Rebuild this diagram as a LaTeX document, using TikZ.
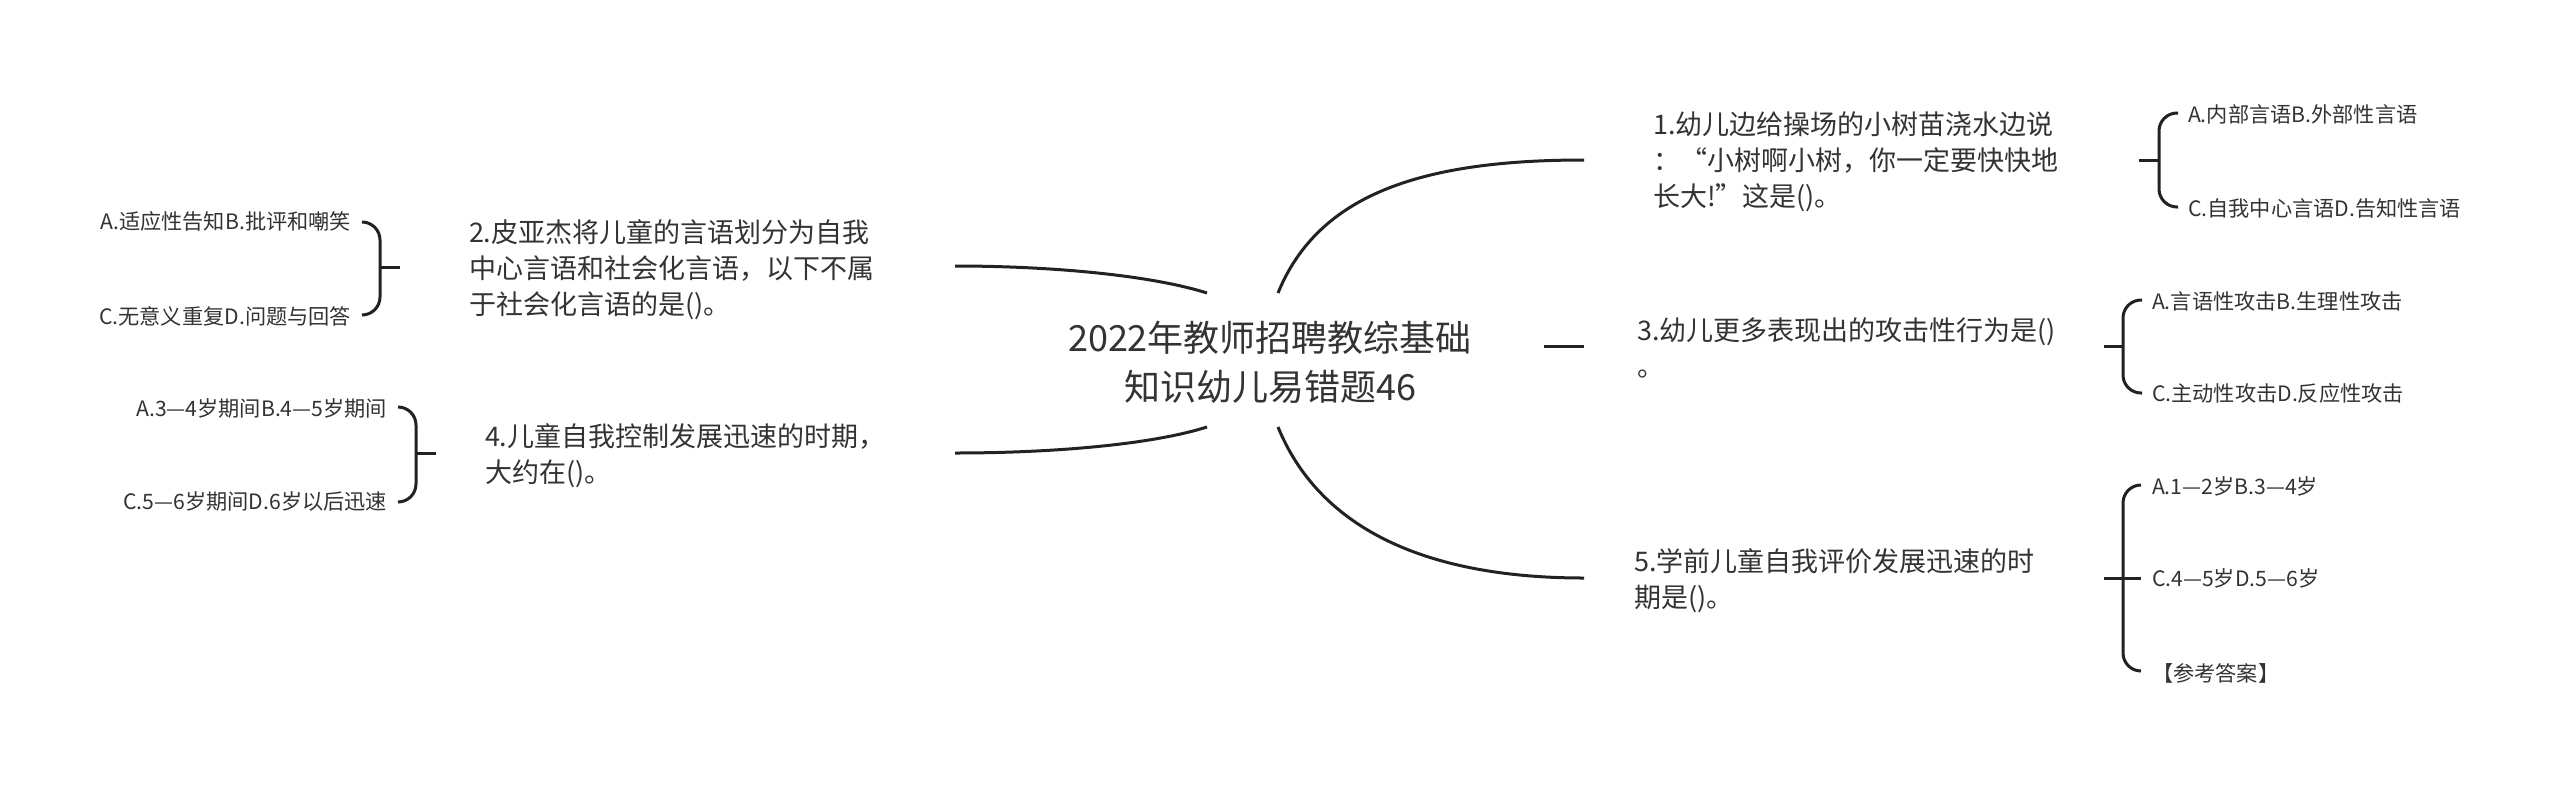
\documentclass[tikz,border=0pt]{standalone}
\usepackage{fontspec}
\setmainfont{Noto Sans CJK SC}
\usetikzlibrary{calc}
\newcommand\qs{\vrule width 0pt height 0.88em depth 0.12em\relax}
\newcommand\fwq[1]{{\addfontfeature{RawFeature=+fwid}#1}}
\definecolor{txtc}{HTML}{333333}
\definecolor{lnc}{HTML}{222222}
\begin{document}
\begin{tikzpicture}[x=1pt,y=-1pt,
  txtbase/.style={inner sep=0pt,outer sep=0pt,text=txtc},
  titlenode/.style={txtbase,font=\fontsize{36}{49}\selectfont,align=center},
  ques/.style={txtbase,font=\fontsize{27}{36}\selectfont,align=left,anchor=west},
  opt/.style={txtbase,font=\fontsize{21.2}{26}\selectfont,execute at begin node=\qs},
  link/.style={draw=lnc,line width=3pt},
  bracket/.style={link,rounded corners=18pt}]
\fill[white] (0,0) rectangle (2560,785);
\useasboundingbox (0,0) rectangle (2560,785);

% central topic
\node[titlenode] (root) at (1270,362) {\qs 2022年教师招聘教综基础\\知识幼儿易错题46\qs};
\coordinate (rTL) at (1207,293);
\coordinate (rTR) at (1278,293);
\coordinate (rBL) at (1207,427);
\coordinate (rBR) at (1278,427);
\coordinate (rR) at (1544,346);

% questions
\node[ques] (q1) at (1653,161) {\qs 1.幼儿边给操场的小树苗浇水边说\\：\fwq{“}小树啊小树，你一定要快快地\\长大!\fwq{”}这是()。\qs};
\node[ques] (q2) at (469,269) {\qs 2.皮亚杰将儿童的言语划分为自我\\中心言语和社会化言语，以下不属\\于社会化言语的是()。\qs};
\node[ques] (q3) at (1637,348) {\qs 3.幼儿更多表现出的攻击性行为是()\\。\qs};
\node[ques] (q4) at (485,455) {\qs 4.儿童自我控制发展迅速的时期，\\大约在()。\qs};
\node[ques] (q5) at (1634,580) {\qs 5.学前儿童自我评价发展迅速的时\\期是()。\qs};

\coordinate (q1in) at (1584,160);  \coordinate (q1out) at (2139,160);
\coordinate (q2in) at (955,266);   \coordinate (q2out) at (400,267);
\coordinate (q3in) at (1584,346);  \coordinate (q3out) at (2104,346);
\coordinate (q4in) at (955,453);   \coordinate (q4out) at (436,453);
\coordinate (q5in) at (1584,578);  \coordinate (q5out) at (2104,578);

% options
\node[opt,anchor=east] (o2a) at (351,221) {A.适应性告知B.批评和嘲笑};
\node[opt,anchor=east] (o2b) at (351,316) {C.无意义重复D.问题与回答};
\node[opt,anchor=east] (o4a) at (387,408) {A.3—4岁期间B.4—5岁期间};
\node[opt,anchor=east] (o4b) at (387,501) {C.5—6岁期间D.6岁以后迅速};
\node[opt,anchor=west] (o1a) at (2188,114) {A.内部言语B.外部性言语};
\node[opt,anchor=west] (o1b) at (2188,208) {C.自我中心言语D.告知性言语};
\node[opt,anchor=west] (o3a) at (2152,301) {A.言语性攻击B.生理性攻击};
\node[opt,anchor=west] (o3b) at (2152,393) {C.主动性攻击D.反应性攻击};
\node[opt,anchor=west] (o5a) at (2152,486) {A.1—2岁B.3—4岁};
\node[opt,anchor=west] (o5b) at (2152,578) {C.4—5岁D.5—6岁};
\node[opt,anchor=west] (o5c) at (2152,673) {【参考答案】};

% root to questions
\draw[link] (rTR) .. controls (1318,195) and (1420,160) .. (q1in);
\draw[link] (rR) -- (q3in);
\draw[link] (rBR) .. controls (1318,525) and (1420,578) .. (q5in);
\draw[link] (rTL) .. controls (1150,275) and (1050,266) .. (q2in);
\draw[link] (rBL) .. controls (1150,445) and (1050,453) .. (q4in);

% question to options brackets
\draw[link] (q1out) -- ++(20,0) coordinate (b1);
\draw[bracket] ($(o1a.west)+(-10,-1)$) -| (b1) |- ($(o1b.west)+(-10,-1)$);

\draw[link] (q3out) -- ++(19,0) coordinate (b3);
\draw[bracket] ($(o3a.west)+(-10,-1)$) -| (b3) |- ($(o3b.west)+(-10,0)$);

\coordinate (b5) at ($(q5out)+(19,0)$);
\draw[link] (q5out) -- ($(o5b.west)+(-11,0)$);
\draw[bracket] ($(o5a.west)+(-11,-1)$) -| (b5) |- ($(o5c.west)+(-11,-2)$);

\draw[link] (q2out) -- ++(-20,0) coordinate (b2);
\draw[bracket] ($(o2a.east)+(11,1)$) -| (b2) |- ($(o2b.east)+(11,-1)$);

\draw[link] (q4out) -- ++(-20,0) coordinate (b4);
\draw[bracket] ($(o4a.east)+(11,-1)$) -| (b4) |- ($(o4b.east)+(11,1)$);
\end{tikzpicture}
\end{document}
